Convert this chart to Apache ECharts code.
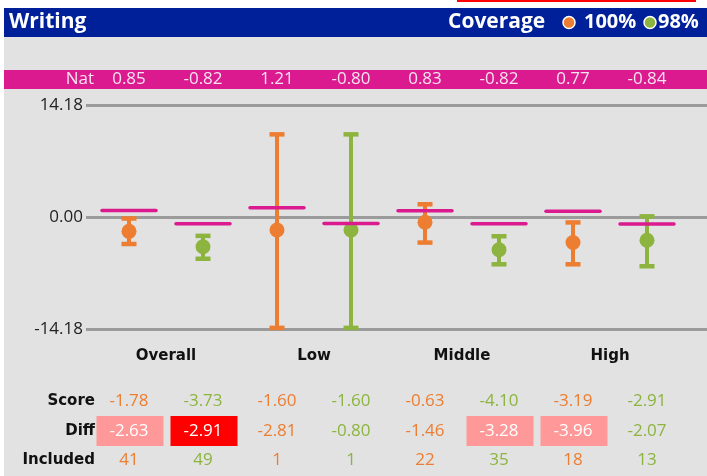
<!DOCTYPE html>
<html>
<head>
<meta charset="utf-8">
<script src="https://cdn.jsdelivr.net/npm/echarts@6/dist/echarts.min.js"></script>
<style>
  html, body { margin: 0; padding: 0; background: #ffffff; }
  #chart { width: 707px; height: 476px; }
</style>
</head>
<body>
<div id="chart"></div>
<script>
// ---------- data ----------
const CATEGORIES = ['Overall', 'Low', 'Middle', 'High'];
const COLUMN_KEYS = ['Overall-100', 'Overall-98', 'Low-100', 'Low-98', 'Middle-100', 'Middle-98', 'High-100', 'High-98'];
const NAT = [0.85, -0.82, 1.21, -0.80, 0.83, -0.82, 0.77, -0.84];
const SCORE = [-1.78, -3.73, -1.60, -1.60, -0.63, -4.10, -3.19, -2.91];
const CI_LOW = [-3.38, -5.25, -14.0, -14.0, -3.2, -5.95, -5.95, -6.2];
const CI_HIGH = [-0.15, -2.35, 10.5, 10.5, 1.65, -2.4, -0.65, 0.12];
const DIFF = [-2.63, -2.91, -2.81, -0.80, -1.46, -3.28, -3.96, -2.07];
const DIFF_FLAG = [1, 2, 0, 0, 0, 1, 1, 0];
const INCLUDED = [41, 49, 1, 1, 22, 35, 18, 13];
const Y_MIN = -14.18, Y_MAX = 14.18, Y_STEP = 14.18;
const COVERAGE = ['100%', '98%'];
const ROW_LABELS = ['Score', 'Diff', 'Included'];

// ---------- style ----------
const ORANGE = '#ed7d31';
const GREEN = '#8cb43f';
const MAGENTA = '#da1a8e';
const BLUE = '#00209a';
const PINK = '#ff9999';
const RED = '#ff0000';
const NUM_FONT = 'Open Sans';
const BOLD_FONT = 'DejaVu Sans';
const HEAD_FONT = 'Open Sans';
const NAT_Y = 79.5, SCORE_Y = 401, DIFF_Y = 431, INCL_Y = 460;

const colColor = i => (i % 2 ? GREEN : ORANGE);
const fmt = v => (Math.abs(v) < 1e-9 ? 0 : v).toFixed(2);

const chart = echarts.init(document.getElementById('chart'), null, { renderer: 'canvas' });

const headText = (text, x, size) => ({ type: 'text', style: { text, x, y: 22.5, verticalAlign: 'middle', fill: '#fff',
  fontSize: size || 21, fontWeight: 'bold', fontFamily: HEAD_FONT } });

const option = {
  backgroundColor: '#e2e2e2',
  animation: false,
  grid: [
    { left: 92, width: 592, top: 105.3, height: 224 },
    { left: 86, right: 0, top: 105.3, height: 224 }
  ],
  xAxis: [
    { gridIndex: 0, type: 'category', data: COLUMN_KEYS, axisLine: { show: false }, axisTick: { show: false }, axisLabel: { show: false }, splitLine: { show: false } },
    { gridIndex: 0, type: 'category', data: CATEGORIES, position: 'bottom', axisLine: { show: false }, axisTick: { show: false }, splitLine: { show: false },
      axisLabel: { margin: 19, fontSize: 15, fontWeight: 'bold', fontFamily: BOLD_FONT, color: '#111' } },
    { gridIndex: 1, type: 'value', show: false, min: 0, max: 1 }
  ],
  yAxis: [
    { gridIndex: 0, type: 'value', min: Y_MIN, max: Y_MAX, interval: Y_STEP, show: false },
    { gridIndex: 1, type: 'value', min: Y_MIN, max: Y_MAX, interval: Y_STEP,
      axisLine: { show: false }, axisTick: { show: false },
      axisLabel: { margin: 3, fontSize: 17, fontFamily: NUM_FONT, color: '#222', formatter: fmt },
      splitLine: { show: true, lineStyle: { color: '#9b9b9b', width: 3 } } }
  ],
  series: [
    {
      type: 'custom', name: 'ci', xAxisIndex: 0, yAxisIndex: 0, z: 3, silent: true,
      data: COLUMN_KEYS.map((k, i) => [i, CI_LOW[i], CI_HIGH[i]]),
      encode: { x: 0, y: [1, 2] },
      renderItem: (params, api) => {
        const i = api.value(0);
        const lo = api.coord([i, api.value(1)]);
        const hi = api.coord([i, api.value(2)]);
        const c = colColor(i);
        return { type: 'group', children: [
          { type: 'line', shape: { x1: lo[0], y1: lo[1], x2: hi[0], y2: hi[1] }, style: { stroke: c, lineWidth: 4 } },
          { type: 'rect', shape: { x: hi[0] - 7.5, y: hi[1] - 2.25, width: 15, height: 4.5 }, style: { fill: c } },
          { type: 'rect', shape: { x: lo[0] - 7.5, y: lo[1] - 2.25, width: 15, height: 4.5 }, style: { fill: c } }
        ] };
      }
    },
    {
      type: 'scatter', name: 'score', xAxisIndex: 0, yAxisIndex: 0, z: 4, silent: true,
      symbol: 'circle', symbolSize: 15,
      data: SCORE.map((s, i) => [i, s]),
      itemStyle: { color: p => colColor(p.dataIndex), opacity: 1 }
    },
    {
      type: 'custom', name: 'nat', xAxisIndex: 0, yAxisIndex: 0, z: 5, silent: true,
      data: NAT.map((n, i) => [i, n]),
      encode: { x: 0, y: 1 },
      renderItem: (params, api) => {
        const p = api.coord([api.value(0), api.value(1)]);
        return { type: 'line', shape: { x1: p[0] - 27, y1: p[1], x2: p[0] + 27, y2: p[1] },
          style: { stroke: MAGENTA, lineWidth: 3.5, lineCap: 'round' } };
      }
    },
    {
      type: 'custom', name: 'table', xAxisIndex: 0, yAxisIndex: 0, z: 6, silent: true, clip: false,
      data: COLUMN_KEYS.map((k, i) => [i, 0]),
      encode: { x: 0, y: 1 },
      renderItem: (params, api) => {
        const i = api.value(0);
        const x = api.coord([i, 0])[0];
        const c = colColor(i);
        const flag = DIFF_FLAG[i];
        const txt = (text, y, fill) => ({ type: 'text', style: { text, x, y, align: 'center', verticalAlign: 'middle',
          fill, fontSize: 17, fontFamily: NUM_FONT } });
        const children = [
          txt(fmt(NAT[i]), NAT_Y, '#f7e3ef'),
          txt(fmt(SCORE[i]), SCORE_Y, c)
        ];
        if (flag > 0) {
          children.push({ type: 'rect', shape: { x: x - 32.5, y: DIFF_Y - 15, width: 67, height: 30 },
            style: { fill: flag === 2 ? RED : PINK } });
        }
        children.push(txt(fmt(DIFF[i]), DIFF_Y + 0.5, flag > 0 ? '#ffffff' : c));
        children.push(txt(String(INCLUDED[i]), INCL_Y, c));
        return { type: 'group', children };
      }
    }
  ],
  graphic: [
    { type: 'rect', shape: { x: 0, y: 0, width: 707, height: 8 }, style: { fill: '#ffffff' } },
    { type: 'rect', shape: { x: 0, y: 0, width: 4, height: 476 }, style: { fill: '#ffffff' } },
    { type: 'rect', shape: { x: 457, y: 0, width: 239, height: 2 }, style: { fill: '#ff0000' } },
    { type: 'rect', shape: { x: 4, y: 8, width: 703, height: 29 }, style: { fill: BLUE } },
    headText('Writing', 9),
    headText('Coverage', 448),
    { type: 'circle', shape: { cx: 569, cy: 22.5, r: 6 }, style: { fill: ORANGE, stroke: '#fff', lineWidth: 1.5 } },
    headText(COVERAGE[0], 584, 20),
    { type: 'circle', shape: { cx: 650, cy: 22.5, r: 6 }, style: { fill: GREEN, stroke: '#fff', lineWidth: 1.5 } },
    headText(COVERAGE[1], 658, 20),
    { type: 'rect', shape: { x: 4, y: 70, width: 703, height: 19 }, style: { fill: MAGENTA } },
    { type: 'text', style: { text: 'Nat', x: 94, y: NAT_Y, align: 'right', verticalAlign: 'middle', fill: '#f7e3ef', fontSize: 17, fontFamily: NUM_FONT } },
    { type: 'text', style: { text: ROW_LABELS[0], x: 95, y: SCORE_Y, align: 'right', verticalAlign: 'middle', fill: '#111', fontSize: 15, fontWeight: 'bold', fontFamily: BOLD_FONT } },
    { type: 'text', style: { text: ROW_LABELS[1], x: 95, y: DIFF_Y, align: 'right', verticalAlign: 'middle', fill: '#111', fontSize: 15, fontWeight: 'bold', fontFamily: BOLD_FONT } },
    { type: 'text', style: { text: ROW_LABELS[2], x: 95, y: INCL_Y, align: 'right', verticalAlign: 'middle', fill: '#111', fontSize: 15, fontWeight: 'bold', fontFamily: BOLD_FONT } }
  ]
};

chart.setOption(option);
</script>
</body>
</html>
